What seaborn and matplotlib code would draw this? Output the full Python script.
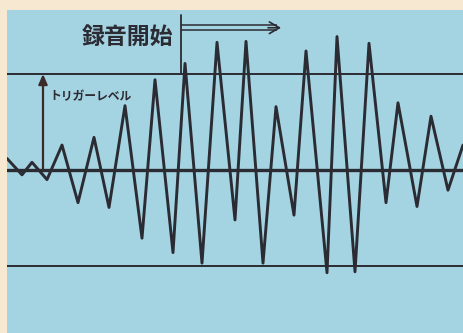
import matplotlib
matplotlib.use("Agg")
import matplotlib.pyplot as plt
import seaborn as sns
import pandas as pd

# Waveform extrema (time position, amplitude; trigger level = 1.0)
wave_t = [7, 22, 32, 47, 62, 78, 94, 109, 125, 142, 155, 173, 185, 202, 217, 235,
          246, 263, 276, 294, 306, 327, 337, 355, 369, 386, 398, 417, 431, 448, 463]
wave_amp = [0.12, -0.05, 0.08, -0.10, 0.26, -0.34, 0.34, -0.39, 0.67, -0.71, 0.94,
            -0.86, 1.11, -0.97, 1.33, -0.52, 1.34, -0.97, 0.66, -0.47, 1.24, -1.07,
            1.39, -1.06, 1.32, -0.34, 0.70, -0.38, 0.56, -0.21, 0.26]

trigger_level = 1.0
record_start = 181
label_start = "録音開始"
label_trigger = "トリガーレベル"

ink = "#2b2b33"
panel = "#a4d3e1"
paper = "#f7e8d2"

sns.set_theme(style="white")
plt.rcParams["font.family"] = ["Noto Sans CJK JP", "DejaVu Sans"]

fig = plt.figure(figsize=(4.63, 3.33), dpi=100)
fig.patch.set_facecolor(paper)
ax = fig.add_axes([7 / 463, 0, 456 / 463, 323 / 333])
ax.set_facecolor(panel)

df = pd.DataFrame({"t": wave_t, "amp": wave_amp})

# reference lines: zero, +trigger, -trigger
ax.axhline(0, color=ink, lw=2.4, zorder=2)
ax.axhline(trigger_level, color=ink, lw=1.4, zorder=2)
ax.axhline(-trigger_level, color=ink, lw=1.4, zorder=2)

sns.lineplot(data=df, x="t", y="amp", ax=ax, color=ink, lw=2.1, sort=False,
             solid_joinstyle="round", zorder=3)

# trigger level arrow
ax.annotate("", xy=(43, trigger_level), xytext=(43, 0),
            arrowprops=dict(arrowstyle="-|>,head_length=0.5,head_width=0.22",
                            color="#3a2a2a", lw=1.6, shrinkA=0, shrinkB=0), zorder=4)
ax.text(49, 0.76, label_trigger, fontsize=8.5, fontweight="bold", color=ink,
        ha="left", va="center", zorder=4)

# recording start marker
ax.plot([record_start, record_start], [trigger_level, 1.615], color=ink, lw=1.3, zorder=4)
ax.hlines([1.51, 1.455], record_start, 277, color=ink, lw=1.1, zorder=4)
ax.annotate("", xy=(281, 1.482), xytext=(268, 1.482),
            arrowprops=dict(arrowstyle="->,head_length=0.6,head_width=0.35",
                            color=ink, lw=1.2, shrinkA=0, shrinkB=0), zorder=4)
ax.text(173, 1.385, label_start, fontsize=16.5, fontweight="bold", color=ink,
        ha="right", va="center", zorder=4)

ax.set_xlim(7, 463)
ax.set_ylim(-1.698, 1.667)
ax.set_xlabel("")
ax.set_ylabel("")
ax.set_xticks([])
ax.set_yticks([])
for s in ax.spines.values():
    s.set_visible(False)

fig.savefig("out.png", dpi=100, facecolor=paper)
